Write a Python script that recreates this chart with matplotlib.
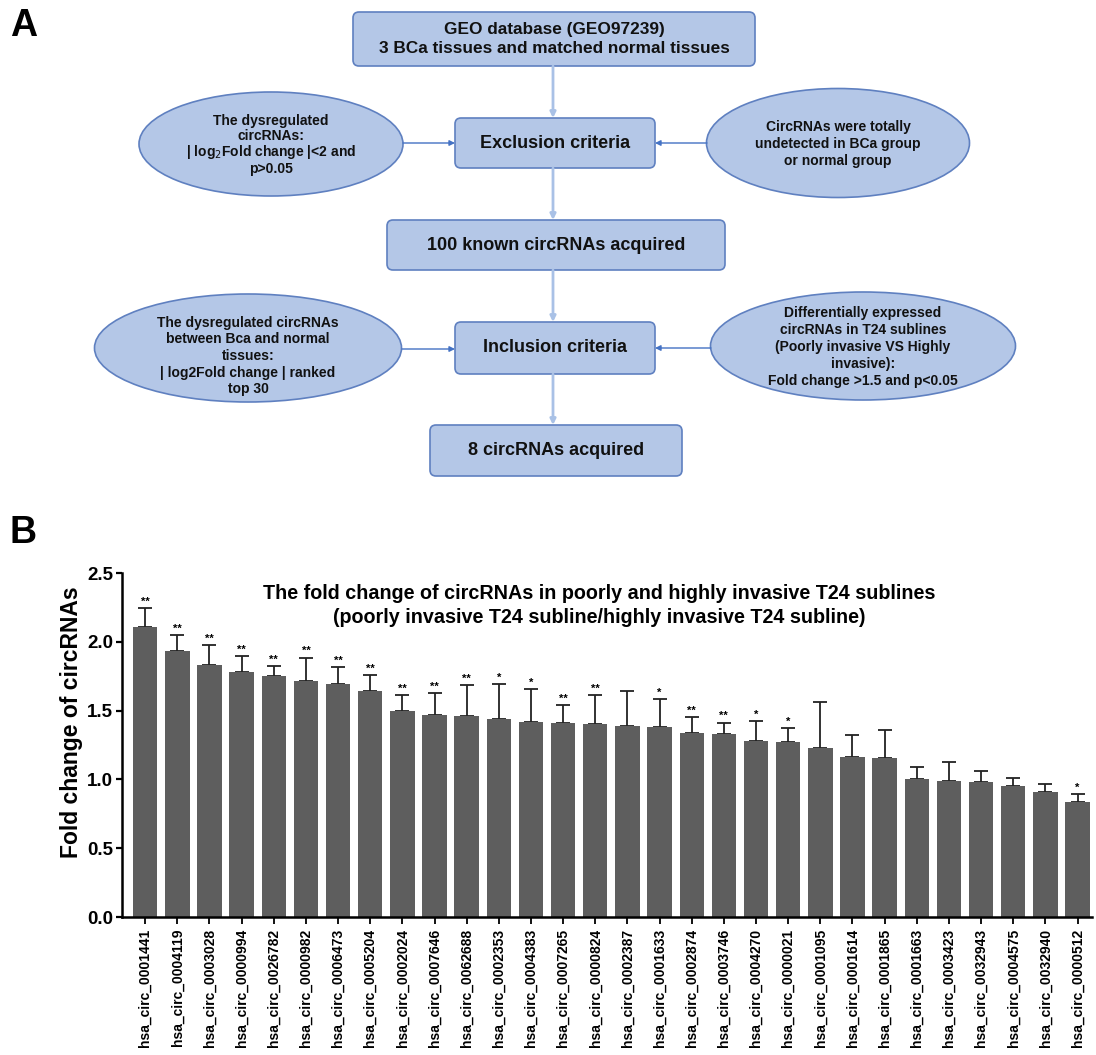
import matplotlib
matplotlib.use("Agg")
import matplotlib.pyplot as plt
from matplotlib.patches import FancyBboxPatch, Ellipse
import numpy as np

plt.rcParams['font.family'] = ['Liberation Sans', 'DejaVu Sans']

# ---- data for panel B ----
circ_ids = ["0001441", "0004119", "0003028", "0000994", "0026782", "0000982",
            "0006473", "0005204", "0002024", "0007646", "0062688", "0002353",
            "0004383", "0007265", "0000824", "0002387", "0001633", "0002874",
            "0003746", "0004270", "0000021", "0001095", "0001614", "0001865",
            "0001663", "0003423", "0032943", "0004575", "0032940", "0000512"]
labels = ["hsa_circ_" + c for c in circ_ids]
fold_change = [2.11, 1.93, 1.83, 1.78, 1.75, 1.715, 1.69, 1.64, 1.50, 1.465,
               1.46, 1.44, 1.42, 1.41, 1.40, 1.39, 1.38, 1.34, 1.33, 1.28,
               1.27, 1.23, 1.165, 1.155, 1.00, 0.99, 0.98, 0.955, 0.905, 0.835]
err_up = [0.135, 0.12, 0.145, 0.115, 0.072, 0.17, 0.125, 0.12, 0.11, 0.16,
          0.225, 0.255, 0.235, 0.13, 0.21, 0.255, 0.205, 0.11, 0.082, 0.143,
          0.10, 0.335, 0.16, 0.205, 0.09, 0.133, 0.082, 0.056, 0.065, 0.058]
stars = ["**", "**", "**", "**", "**", "**", "**", "**", "**", "**", "**", "*",
         "*", "**", "**", "", "*", "**", "**", "*", "*", "", "", "", "", "", "",
         "", "", "*"]

W, H = 1096, 1055
fig = plt.figure(figsize=(W / 100, H / 100), dpi=100)

# ---- panel A: flowchart drawn in pixel coords ----
fa = fig.add_axes([0, 0, 1, 1])
fa.set_xlim(0, W)
fa.set_ylim(H, 0)
fa.axis('off')

fill = '#b4c7e7'
edge = '#5f80c0'


def box(x0, y0, x1, y1, text, fs):
    p = FancyBboxPatch((x0 + 6, y0 + 6), x1 - x0 - 12, y1 - y0 - 12,
                       boxstyle="round,pad=6", fc=fill, ec=edge, lw=1.2)
    fa.add_patch(p)
    fa.text((x0 + x1) / 2, (y0 + y1) / 2, text, ha='center', va='center',
            fontsize=fs, fontweight='bold', color='#111111', linespacing=1.3)


def oval(cx, cy, w, h, text, ty=None, ls=1.25, fs=10):
    fa.add_patch(Ellipse((cx, cy), w, h, fc=fill, ec=edge, lw=1.2))
    fa.text(cx, cy if ty is None else ty, text,
            ha='center', va='center', fontsize=fs, fontweight='bold',
            color='#111111', linespacing=ls)


def down_arrow(x, y0, y1):
    fa.annotate("", xy=(x, y1), xytext=(x, y0),
                arrowprops=dict(arrowstyle='-|>', color='#a9c1e6', lw=2,
                                mutation_scale=8, shrinkA=0, shrinkB=0))


def side_arrow(x0, x1, y):
    fa.annotate("", xy=(x1, y), xytext=(x0, y),
                arrowprops=dict(arrowstyle='-|>', color='#4472c4', lw=1,
                                mutation_scale=8, shrinkA=0, shrinkB=0))


box(353, 12, 755, 66, "GEO database (GEO97239)\n3 BCa tissues and matched normal tissues", 12.4)
down_arrow(553, 66, 118)
box(455, 118, 655, 168, "Exclusion criteria", 13)
oval(271, 144, 264, 104,
     "The dysregulated\ncircRNAs:\n| log$_2$Fold change |<2 and\np>0.05", ty=145, ls=1.05)
oval(838, 143, 263, 109,
     "CircRNAs were totally\nundetected in BCa group\nor normal group", ty=144)
side_arrow(403, 455, 143)
side_arrow(707, 655, 143)
down_arrow(553, 168, 220)
box(387, 220, 725, 270, "100 known circRNAs acquired", 13)
down_arrow(553, 270, 322)
box(455, 322, 655, 374, "Inclusion criteria", 13)
oval(248, 348, 307, 108,
     "The dysregulated circRNAs\nbetween Bca and normal\ntissues:\n| log2Fold change | ranked\ntop 30", ty=356)
oval(863, 346, 305, 108,
     "Differentially expressed\ncircRNAs in T24 sublines\n(Poorly invasive VS Highly\ninvasive):\nFold change >1.5 and p<0.05", ty=347)
side_arrow(402, 455, 349)
side_arrow(711, 655, 348)
down_arrow(553, 374, 425)
box(430, 425, 682, 476, "8 circRNAs acquired", 13)

fa.text(10, 26, "A", fontsize=27, fontweight='bold', va='center', ha='left')
fa.text(10, 533, "B", fontsize=27, fontweight='bold', va='center', ha='left')

# ---- panel B: bar chart ----
ax = fig.add_axes([122 / W, 1 - 917 / H, (1092 - 122) / W, (917 - 573) / H])
x = np.arange(len(labels))
ax.bar(x, fold_change, width=0.76, color='#5e5e5e', zorder=2)
ax.errorbar(x, fold_change, yerr=[np.zeros(len(x)), err_up], fmt='none',
            ecolor='#222222', elinewidth=1.3, capsize=5, capthick=1.3, zorder=1)
for xi, v, e, s in zip(x, fold_change, err_up, stars):
    if s:
        ax.text(xi, v + e + 0.01, s, ha='center', va='bottom', fontsize=8,
                fontweight='bold')

ax.set_xlim(-0.72, 29.45)
ax.set_ylim(0, 2.5)
ax.set_yticks([0, 0.5, 1.0, 1.5, 2.0, 2.5])
ax.set_yticklabels(["0.0", "0.5", "1.0", "1.5", "2.0", "2.5"],
                   fontsize=13.5, fontweight='bold')
ax.set_xticks(x)
ax.set_xticklabels(labels, rotation=90, fontsize=10, fontweight='bold')
ax.set_ylabel("Fold change of circRNAs", fontsize=16.5, fontweight='bold')
ax.yaxis.set_label_coords(-0.04, 0.567)
for sp in ['top', 'right']:
    ax.spines[sp].set_visible(False)
for sp in ['left', 'bottom']:
    ax.spines[sp].set_linewidth(1.8)
ax.tick_params(axis='y', length=4.5, width=1.6, pad=2)
ax.tick_params(axis='x', length=5, width=1.3)
ax.patch.set_alpha(0)

ax.text(0.492, 0.968,
        "The fold change of circRNAs in poorly and highly invasive T24 sublines\n"
        "(poorly invasive T24 subline/highly invasive T24 subline)",
        transform=ax.transAxes, ha='center', va='top', fontsize=14.2,
        fontweight='bold', linespacing=1.3)

fig.savefig("out.png", dpi=100)
